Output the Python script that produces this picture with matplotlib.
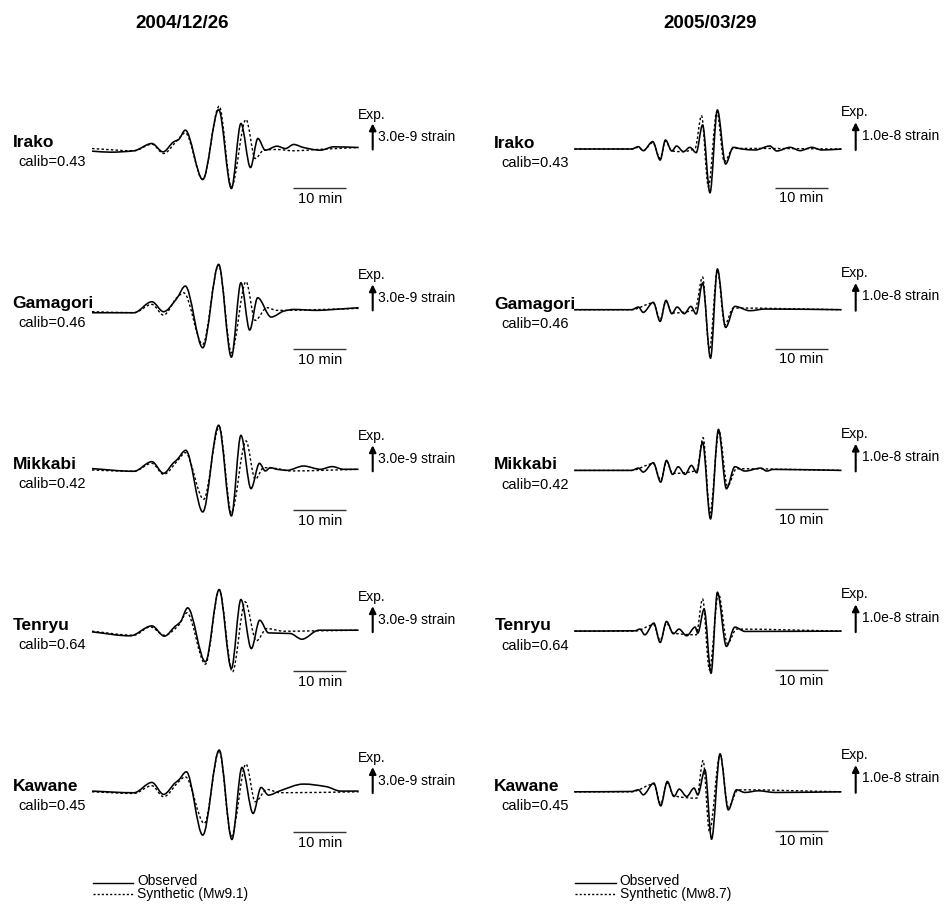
import matplotlib
matplotlib.use("Agg")
import matplotlib.pyplot as plt
from matplotlib.path import Path
from matplotlib.patches import PathPatch
from matplotlib.lines import Line2D

plt.rcParams['font.family'] = ['Liberation Sans', 'DejaVu Sans']

# ---------------- data (time in minutes, strain in units of 1e-9) ----------------
stations = ['Irako', 'Gamagori', 'Mikkabi', 'Tenryu', 'Kawane']
calibs = ['0.43', '0.46', '0.42', '0.64', '0.45']
events = ['2004/12/26', '2005/03/29']
scale_values = [3.0, 10.0]
scale_labels = ['3.0e-9 strain', '1.0e-8 strain']
synthetic_labels = ['Synthetic (Mw9.1)', 'Synthetic (Mw8.7)']
bar_minutes = 10

# 2004/12/26 observed / synthetic
irako_0412_obs = [(0, -0.42), (3.5, -0.54), (7.9, -0.38), (11.3, 0.46), (13.4, -0.5), (15.4, 0.65),
                  (16.35, 0.92), (17.6, 2.0), (20.9, -3.69), (23.9, 4.38), (26.3, -4.73), (28.1, 2.77),
                  (29.9, -2.31), (31.3, 1.04), (32.7, -0.31), (34.9, 0.15), (36.5, -0.12), (38.05, 0.35),
                  (39.9, 0.0), (43.1, -0.31), (45.6, 0.08), (50.3, 0.0)]
irako_0412_syn = [(0, -0.12), (7.9, -0.38), (11.3, 0.38), (13.5, -0.69), (16.0, 0.77), (17.6, 1.69),
                  (20.9, -3.69), (24.0, 4.77), (26.3, -4.54), (29.06, 3.23), (30.8, -1.27), (32.4, -0.31),
                  (34.9, -0.23), (38.05, -0.38), (42.45, -0.23), (50.3, 0.0)]
gamagori_0412_obs = [(0, -0.5), (7.9, -0.5), (11.3, 0.77), (13.5, -0.38), (16.0, 1.15), (17.6, 2.58),
                     (20.9, -4.54), (23.9, 5.08), (26.3, -5.62), (28.1, 2.96), (29.75, -2.5), (31.26, 1.23),
                     (33.8, -1.0), (36.2, -0.31), (38.05, -0.12), (42.45, -0.23), (45.6, -0.12), (50.3, 0.08)]
gamagori_0412_syn = [(0, -0.38), (7.9, -0.5), (11.3, 0.46), (13.5, -0.77), (16.0, 1.23), (17.3, 1.8),
                     (20.9, -4.15), (23.9, 5.0), (26.3, -5.12), (29.06, 3.08), (30.8, -1.38), (33.0, 0.08),
                     (34.9, -0.23), (50.3, 0.0)]
mikkabi_0412_obs = [(0, 0.08), (7.9, -0.23), (11.3, 0.88), (13.5, -0.46), (15.4, 0.77), (16.0, 1.08),
                    (17.7, 2.19), (20.9, -4.92), (23.9, 5.08), (26.3, -5.38), (28.1, 3.92), (30.0, -2.23),
                    (31.6, 0.69), (32.7, -0.19), (33.65, 0.19), (34.9, 0.0), (36.8, -0.12), (39.9, 0.38),
                    (43.1, 0.0), (45.3, 0.31), (47.5, 0.0), (50.3, 0.0)]
mikkabi_0412_syn = [(0, -0.08), (7.9, -0.23), (11.3, 0.69), (13.5, -0.58), (16.35, 1.15), (17.6, 1.92),
                    (21.07, -3.46), (24.0, 4.92), (26.3, -5.0), (29.06, 3.27), (30.8, -1.15), (32.4, 0.19),
                    (34.9, 0.08), (37.4, -0.19), (50.3, 0.0)]
tenryu_0412_obs = [(0, -0.19), (7.2, -0.65), (11.3, 0.5), (13.65, -0.69), (15.7, 0.46), (16.7, 0.96),
                   (18.05, 2.58), (21.4, -3.65), (24.0, 4.69), (26.3, -4.42), (28.1, 3.54), (30.06, -2.12),
                   (31.64, 1.15), (33.3, -0.31), (37.4, -0.38), (39.6, -1.04), (42.8, 0.0), (50.3, 0.0)]
tenryu_0412_syn = [(0, -0.12), (7.9, -0.58), (11.0, 0.38), (13.65, -0.58), (16.35, 0.58), (17.9, 2.0),
                   (21.4, -3.92), (24.0, 4.62), (26.5, -4.81), (28.9, 3.27), (31.0, -1.23), (33.0, 0.19),
                   (36.2, -0.12), (41.8, -0.08), (50.3, 0.0)]
kawane_0412_obs = [(0, 0.0), (7.9, -0.19), (11.3, 1.0), (13.5, -0.38), (15.7, 0.96), (16.35, 1.27),
                   (17.8, 2.23), (20.9, -5.08), (24.0, 4.73), (26.4, -5.58), (28.3, 2.73), (30.4, -2.58),
                   (31.9, 0.42), (33.3, -0.46), (35.5, 0.04), (39.9, 0.81), (44.3, 0.5), (46.9, 0.0), (50.3, 0.0)]
kawane_0412_syn = [(0, -0.08), (7.9, -0.27), (11.3, 0.62), (13.5, -0.65), (16.35, 1.08), (17.6, 1.65),
                   (21.2, -3.73), (24.0, 4.65), (26.3, -5.19), (29.06, 3.12), (30.8, -1.23), (33.0, 0.19),
                   (35.5, -0.19), (50.3, -0.08)]

# 2005/03/29 observed / synthetic
irako_0503_obs = [(0, 0.0), (10.8, 0.0), (12.1, 0.84), (13.0, -0.6), (14.8, 2.65), (16.2, -3.98), (17.2, 3.25),
                  (18.4, -0.72), (19.3, 1.08), (20.6, -0.96), (21.8, 0.6), (23.0, -1.33), (24.2, 8.67),
                  (25.6, -15.8), (27.0, 14.1), (28.55, -5.42), (30.0, 0.6), (31.6, 0.0), (34.1, -0.36),
                  (36.9, 1.08), (38.2, -0.72), (40.7, 0.6), (42.6, -0.6), (44.8, 0.6), (46.7, -0.36), (50.4, 0.0)]
irako_0503_syn = [(0, 0.0), (10.8, 0.0), (12.1, 0.6), (13.0, -0.6), (14.8, 2.29), (16.2, -3.37), (17.2, 2.89),
                  (18.4, -0.72), (20.25, -0.96), (22.8, 0.24), (24.0, 12.0), (25.3, -13.6), (26.9, 13.5),
                  (28.3, -4.58), (30.0, 0.24), (50.4, 0.0)]
gamagori_0503_obs = [(0, 0.0), (10.8, 0.0), (12.1, 0.96), (13.0, -0.96), (14.9, 2.65), (16.2, -4.22),
                     (17.3, 3.37), (18.4, -1.45), (19.4, 0.96), (20.75, -1.45), (22.0, 1.2), (23.0, -1.57),
                     (24.2, 9.64), (25.7, -17.5), (27.0, 14.7), (28.55, -6.39), (30.3, 1.2), (33.1, -0.36),
                     (36.0, 0.24), (50.4, 0.0)]
gamagori_0503_syn = [(0, 0.0), (10.8, 0.0), (14.9, 2.41), (16.2, -3.61), (17.3, 3.01), (18.4, -1.2),
                     (22.8, 0.0), (24.2, 11.8), (25.5, -14.5), (27.0, 14.2), (28.4, -5.42), (30.0, 0.6), (50.4, 0.0)]
mikkabi_0503_obs = [(0, 0.0), (10.8, 0.0), (12.1, 0.84), (13.0, -0.6), (14.9, 2.77), (16.3, -4.22),
                    (17.4, 3.61), (18.55, -1.45), (19.6, 1.33), (20.9, -1.45), (22.1, 1.81), (23.1, -0.84),
                    (24.2, 10.2), (25.7, -17.5), (27.2, 14.8), (28.7, -6.63), (30.3, 1.33), (32.2, -0.24),
                    (35.2, 0.84), (36.3, -0.24), (37.55, 0.36), (50.4, 0.0)]
mikkabi_0503_syn = [(0, 0.0), (10.8, 0.0), (14.9, 2.41), (16.3, -3.49), (17.4, 3.13), (18.55, -1.08),
                    (23.1, 0.0), (24.3, 11.8), (25.6, -15.3), (27.3, 14.2), (28.9, -5.66), (30.6, 0.6), (50.4, 0.0)]
tenryu_0503_obs = [(0, 0.0), (11.45, 0.12), (12.4, 0.72), (13.3, -1.33), (15.0, 2.89), (16.2, -4.1),
                   (17.4, 3.49), (18.7, -0.96), (19.75, 0.72), (21.2, -1.69), (22.8, 1.45), (23.3, -0.72),
                   (24.5, 7.95), (25.8, -15.2), (27.0, 14.0), (28.7, -5.54), (30.3, 1.45), (32.2, -0.12), (50.4, 0.0)]
tenryu_0503_syn = [(0, 0.0), (11.45, 0.0), (15.0, 2.29), (16.2, -3.37), (17.4, 2.89), (18.7, -0.72),
                   (23.0, -1.33), (24.2, 11.6), (25.5, -14.0), (27.2, 13.5), (28.9, -4.58), (30.6, 0.72), (50.4, 0.0)]
kawane_0503_obs = [(0, 0.0), (10.8, 0.12), (12.1, 0.72), (13.0, -1.08), (15.0, 3.13), (16.3, -5.06),
                   (17.55, 3.73), (18.8, -1.69), (19.8, 0.96), (21.2, -1.69), (22.6, 1.33), (23.3, -1.08),
                   (24.65, 7.95), (25.9, -17.1), (27.5, 13.7), (29.06, -6.51), (30.6, 0.72), (32.2, -0.24),
                   (34.7, 0.36), (37.9, -0.24), (50.4, 0.0)]
kawane_0503_syn = [(0, 0.0), (10.8, 0.0), (15.0, 2.77), (16.3, -4.34), (17.55, 3.13), (18.8, -1.45),
                   (23.1, -2.29), (24.3, 11.3), (25.5, -14.3), (27.5, 13.4), (29.06, -5.54), (30.9, 0.72), (50.4, 0.0)]

observed = [[irako_0412_obs, gamagori_0412_obs, mikkabi_0412_obs, tenryu_0412_obs, kawane_0412_obs],
            [irako_0503_obs, gamagori_0503_obs, mikkabi_0503_obs, tenryu_0503_obs, kawane_0503_obs]]
synthetic = [[irako_0412_syn, gamagori_0412_syn, mikkabi_0412_syn, tenryu_0412_syn, kawane_0412_syn],
             [irako_0503_syn, gamagori_0503_syn, mikkabi_0503_syn, tenryu_0503_syn, kawane_0503_syn]]


# ---------------- helpers ----------------
def smooth_path(pts):
    """Monotone (PCHIP-like) cubic Bezier path through the given points."""
    t = [p[0] for p in pts]
    a = [p[1] for p in pts]
    n = len(t)
    d = [(a[i + 1] - a[i]) / (t[i + 1] - t[i]) for i in range(n - 1)]
    h = [t[i + 1] - t[i] for i in range(n - 1)]
    m = [0.0] * n
    m[0] = d[0]
    m[-1] = d[-1]
    for i in range(1, n - 1):
        if d[i - 1] * d[i] <= 0:
            m[i] = 0.0
        else:
            w1 = 2 * h[i] + h[i - 1]
            w2 = h[i] + 2 * h[i - 1]
            m[i] = (w1 + w2) / (w1 / d[i - 1] + w2 / d[i])
    verts = [(t[0], a[0])]
    codes = [Path.MOVETO]
    for i in range(n - 1):
        hh = h[i]
        verts += [(t[i] + hh / 3, a[i] + m[i] * hh / 3),
                  (t[i + 1] - hh / 3, a[i + 1] - m[i + 1] * hh / 3),
                  (t[i + 1], a[i + 1])]
        codes += [Path.CURVE4] * 3
    return Path(verts, codes)


W, H = 949, 905
fig = plt.figure(figsize=(W / 100, H / 100), dpi=100)

PX_PER_MIN = 5.3
col_left = [0, 475]
col_width = [475, 474]
trace_start = [92, 574.3]
px_per_unit = [26 / 3.0, 27.7 / 10.0]
baselines = [[147.5 + 160.9 * i for i in range(5)], [149 + 160.7 * i for i in range(5)]]
ROW_H = 160

# per-column layout (pixels)
name_x = [12.7, 494.3]
name_dy = [4.6, 5.7]
calib_x = [18.3, 501]
exp_x = [358.3, 841]
exp_dy = [33, 36.7]
strain_x = [377.7, 861.7]
strain_dy = [10.6, 13.3]
arrow_x = [372.7, 855.7]
arrow_base_dy = [-2, -1]
bar_start_px = [293.4, 775]
bar_dy = [-41, -39]
title_x = [182, 710]

for c in range(2):
    x0 = (col_left[c] - trace_start[c]) / PX_PER_MIN
    x1 = (col_left[c] + col_width[c] - trace_start[c]) / PX_PER_MIN
    yl = ROW_H / 2 / px_per_unit[c]
    for r in range(5):
        b = baselines[c][r]
        ax = fig.add_axes([col_left[c] / W, (H - (b + ROW_H / 2)) / H, col_width[c] / W, ROW_H / H])
        ax.set_xlim(x0, x1)
        ax.set_ylim(-yl, yl)
        ax.axis('off')

        def fx(px):
            return (px - col_left[c]) / col_width[c]

        def fy(dy):
            return 0.5 + dy / ROW_H

        def tx(px):
            return (px - trace_start[c]) / PX_PER_MIN

        ax.add_patch(PathPatch(smooth_path(synthetic[c][r]), fill=False, lw=1.0, color='black',
                               linestyle=(0, (1.8, 1.6)), capstyle='butt'))
        ax.add_patch(PathPatch(smooth_path(observed[c][r]), fill=False, lw=1.15, color='black'))

        ax.text(fx(name_x[c]), fy(name_dy[c]), stations[r], transform=ax.transAxes,
                ha='left', va='center', fontsize=12.5, fontweight='bold')
        ax.text(fx(calib_x[c]), fy(-14.4), 'calib=' + calibs[r], transform=ax.transAxes,
                ha='left', va='center', fontsize=10.5)
        ax.text(fx(exp_x[c]), fy(exp_dy[c]), 'Exp.', transform=ax.transAxes,
                ha='left', va='center', fontsize=10)
        ax.text(fx(strain_x[c]), fy(strain_dy[c]), scale_labels[c], transform=ax.transAxes,
                ha='left', va='center', fontsize=10)
        y0 = arrow_base_dy[c] / px_per_unit[c]
        ax.annotate('', xy=(tx(arrow_x[c]), y0 + scale_values[c]), xytext=(tx(arrow_x[c]), y0),
                    arrowprops=dict(arrowstyle='-|>', lw=1.5, color='black', mutation_scale=10,
                                    shrinkA=0, shrinkB=0))
        bs = tx(bar_start_px[c])
        by = bar_dy[c] / px_per_unit[c]
        ax.plot([bs, bs + bar_minutes], [by, by], color='#333333', lw=1.0, solid_capstyle='butt')
        ax.text(bs + bar_minutes / 2, (bar_dy[c] - 10.5) / px_per_unit[c], '10 min',
                ha='center', va='center', fontsize=10.5)

    fig.text(title_x[c] / W, 1 - 23 / H, events[c], ha='center', va='center', fontsize=13.5,
             fontweight='bold')

    # legend (one two-line text block beside the two line samples)
    lx0 = trace_start[c] + 0.7
    fig.add_artist(Line2D([lx0 / W, (lx0 + 40.6) / W], [1 - 882.5 / H, 1 - 882.5 / H],
                          color='black', lw=1.0, transform=fig.transFigure))
    fig.add_artist(Line2D([lx0 / W, (lx0 + 40.6) / W], [1 - 893.8 / H, 1 - 893.8 / H],
                          color='black', lw=1.0, linestyle=(0, (1.5, 1.5)), transform=fig.transFigure))
    fig.text((lx0 + 44.6) / W, 1 - 887.5 / H, 'Observed\n' + synthetic_labels[c], ha='left', va='center',
             fontsize=10, linespacing=0.84)

fig.savefig('out.png', dpi=100)
